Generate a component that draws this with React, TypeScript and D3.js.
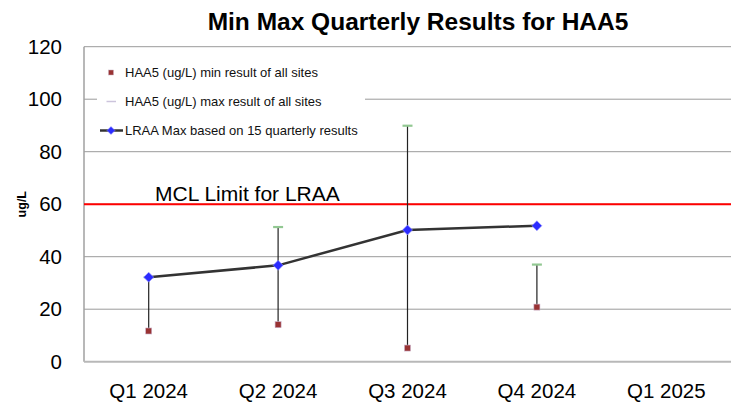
import React from 'react'
import * as d3 from 'd3'

const quarters = ['Q1 2024', 'Q2 2024', 'Q3 2024', 'Q4 2024', 'Q1 2025']
const minValues: (number | null)[] = [11.7, 14.1, 5.2, 20.8, null]
const maxValues: (number | null)[] = [32.2, 51.3, 89.9, 37, null]
const lraaValues: (number | null)[] = [32.2, 36.7, 50.2, 51.8, null]
const yTicks = [0, 20, 40, 60, 80, 100, 120]
const mclLimit = 60

const legendItems = [
  'HAA5 (ug/L) min result of all sites',
  'HAA5 (ug/L) max result of all sites',
  'LRAA Max based on 15 quarterly results'
]

const width = 736
const height = 402
const margin = { top: 46.7, right: 5, bottom: 40.3, left: 84 }
const font = 'Liberation Sans, Arial, sans-serif'

export default function App() {
  const x = d3
    .scaleBand<string>()
    .domain(quarters)
    .range([margin.left, width - margin.right])
    .paddingInner(0)
    .paddingOuter(0)
  const y = d3
    .scaleLinear()
    .domain([0, 120])
    .range([height - margin.bottom, margin.top])

  const cx = (i: number) => (x(quarters[i]) as number) + x.bandwidth() / 2

  const lraaPoints = lraaValues
    .map((v, i) => ({ v, i }))
    .filter(d => d.v !== null) as { v: number; i: number }[]

  const line = d3
    .line<{ v: number; i: number }>()
    .x(d => cx(d.i))
    .y(d => y(d.v))

  const x0 = margin.left
  const x1 = width - margin.right
  const diamond = (px: number, py: number, r: number) =>
    `M${px},${py - r}L${px + r},${py}L${px},${py + r}L${px - r},${py}Z`

  // legend box
  const lg = { x: 97, y: 58, w: 268, h: 88 }
  const rowY = [72.5, 101.5, 130.5]

  return (
    <svg
      width={width}
      height={height}
      style={{ position: 'absolute', left: 0, top: 0, background: '#fff' }}
      fontFamily={font}
    >
      {/* gridlines */}
      {yTicks.filter(t => t > 0).map(t => (
        <line key={t} x1={x0} x2={x1} y1={y(t)} y2={y(t)} stroke="#9a9a9a" strokeWidth={1} />
      ))}
      {/* axes */}
      <line x1={x0} x2={x0} y1={y(120)} y2={y(0)} stroke="#a0a0a0" strokeWidth={1.5} />
      <line x1={x0} x2={x1} y1={y(0)} y2={y(0)} stroke="#b8b8b8" strokeWidth={2} />

      {/* y tick labels */}
      {yTicks.map(t => (
        <text key={t} x={62} y={y(t)} dy="0.35em" textAnchor="end" fontSize={20.5} fill="#000">
          {t}
        </text>
      ))}
      {/* x labels */}
      {quarters.map((q, i) => (
        <text key={q} x={cx(i)} y={398} textAnchor="middle" fontSize={20.5} fill="#000">
          {q}
        </text>
      ))}

      {/* y axis title */}
      <text
        transform={`translate(25.5,${(y(0) + y(120)) / 2}) rotate(-90)`}
        textAnchor="middle"
        fontSize={12.5}
        fontWeight="bold"
      >
        ug/L
      </text>

      {/* title */}
      <text x={418} y={30} textAnchor="middle" fontSize={24.5} fontWeight="bold">
        Min Max Quarterly Results for HAA5
      </text>

      {/* legend */}
      <rect x={lg.x} y={lg.y} width={lg.w} height={lg.h} fill="#fff" />
      <rect x={108.5} y={rowY[0] - 2.5} width={5} height={5} fill="#993333" stroke="#c8b0c0" strokeWidth={0.5} />
      <line x1={106.5} x2={116} y1={rowY[1]} y2={rowY[1]} stroke="#ccc4dc" strokeWidth={1.5} />
      <line x1={100} x2={123} y1={rowY[2]} y2={rowY[2]} stroke="#333" strokeWidth={2.5} />
      <path d={diamond(111, rowY[2], 4)} fill="#2b2bff" stroke="#9b9bff" strokeWidth={0.5} />
      {legendItems.map((t, i) => (
        <text key={t} x={125} y={rowY[i]} dy="0.35em" fontSize={13} fill="#111">
          {t}
        </text>
      ))}

      {/* MCL limit */}
      <line x1={x0} x2={x1} y1={y(mclLimit)} y2={y(mclLimit)} stroke="#ff0000" strokeWidth={2} />
      <text x={155} y={200.5} fontSize={21} fill="#000">
        MCL Limit for LRAA
      </text>

      {/* high-low lines */}
      {quarters.map((q, i) =>
        minValues[i] !== null && maxValues[i] !== null ? (
          <line
            key={q}
            x1={cx(i)}
            x2={cx(i)}
            y1={y(minValues[i] as number)}
            y2={y(maxValues[i] as number)}
            stroke="#222"
            strokeWidth={1.2}
          />
        ) : null
      )}

      {/* max markers */}
      {quarters.map((q, i) =>
        maxValues[i] !== null ? (
          <line
            key={q}
            x1={cx(i) - 5}
            x2={cx(i) + 5}
            y1={y(maxValues[i] as number)}
            y2={y(maxValues[i] as number)}
            stroke="#92c892"
            strokeWidth={2.2}
          />
        ) : null
      )}

      {/* min markers */}
      {quarters.map((q, i) =>
        minValues[i] !== null ? (
          <rect
            key={q}
            x={cx(i) - 3}
            y={y(minValues[i] as number) - 3}
            width={6}
            height={6}
            fill="#993333"
            stroke="#c8b0c8"
            strokeWidth={0.6}
          />
        ) : null
      )}

      {/* LRAA line */}
      <path d={line(lraaPoints) || ''} fill="none" stroke="#333" strokeWidth={2.5} />
      {lraaPoints.map(d => (
        <path key={d.i} d={diamond(cx(d.i), y(d.v), 5)} fill="#2b2bff" stroke="#a0a0ff" strokeWidth={0.6} />
      ))}
    </svg>
  )
}
